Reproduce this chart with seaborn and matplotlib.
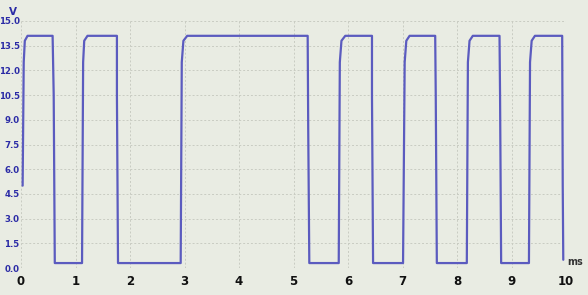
import matplotlib
matplotlib.use("Agg")
import matplotlib.pyplot as plt
import seaborn as sns
import pandas as pd

# Waveform trace (time in ms, voltage in V)
time_ms = [0.03, 0.05, 0.07, 0.12, 0.58, 0.60, 0.62, 1.12, 1.14, 1.16, 1.22, 1.76, 1.76, 1.78,
           2.93, 2.95, 2.98, 3.05, 5.26, 5.27, 5.29, 5.83, 5.85, 5.88, 5.95, 6.44, 6.44, 6.46,
           7.01, 7.04, 7.07, 7.13, 7.60, 7.61, 7.63, 8.18, 8.20, 8.23, 8.29, 8.78, 8.79, 8.81,
           9.32, 9.34, 9.37, 9.43, 9.93, 9.94, 9.95]
voltage_v = [5.0, 12.5, 13.8, 14.1, 14.1, 10.5, 0.3, 0.3, 12.5, 13.8, 14.1, 14.1, 10.5, 0.3,
             0.3, 12.5, 13.8, 14.1, 14.1, 8.5, 0.3, 0.3, 12.5, 13.8, 14.1, 14.1, 10.5, 0.3,
             0.3, 12.5, 13.8, 14.1, 14.1, 10.5, 0.3, 0.3, 12.5, 13.8, 14.1, 14.1, 10.5, 0.3,
             0.3, 12.5, 13.8, 14.1, 14.1, 5.0, 0.5]

x_ticks = [0, 1, 2, 3, 4, 5, 6, 7, 8, 9, 10]
y_ticks = [0.0, 1.5, 3.0, 4.5, 6.0, 7.5, 9.0, 10.5, 12.0, 13.5, 15.0]
y_labels = ["0.0", "1.5", "3.0", "4.5", "6.0", "7.5", "9.0", "10.5", "12.0", "13.5", "15.0"]

df = pd.DataFrame({"t": time_ms, "v": voltage_v})

sns.set_theme(style="white")
plt.rcParams['font.family'] = ['DejaVu Sans']

bg = "#e9ece3"
fig = plt.figure(figsize=(5.88, 2.95), dpi=100, facecolor=bg)
ax = fig.add_axes([21 / 588, 27 / 295, 545 / 588, 247 / 295])
ax.set_facecolor(bg)

sns.lineplot(data=df, x="t", y="v", sort=False, estimator=None, ax=ax,
             color="#5b5bbf", linewidth=1.6)

ax.set_xlim(0, 10)
ax.set_ylim(0, 15)
ax.set_xticks(x_ticks)
ax.set_xticklabels([str(v) for v in x_ticks], fontsize=8.5, fontweight="bold", color="#111111")
ax.set_yticks(y_ticks)
ax.set_yticklabels(y_labels, fontsize=6.8, fontweight="bold", color="#2b2ba6",
                   fontstretch="condensed")
ax.tick_params(axis="x", length=0, pad=5)
ax.tick_params(axis="y", length=0, pad=1)
ax.grid(True, color="#c9ccc2", linestyle=(0, (2, 2)), linewidth=0.7)
for s in ax.spines.values():
    s.set_visible(False)
ax.set_xlabel("")
ax.set_ylabel("")

fig.text(9 / 588, 1 - 12 / 295, "V", fontsize=7.5, fontweight="bold", color="#2b2ba6",
         ha="left", va="center")
fig.text(567 / 588, 1 - 262 / 295, "ms", fontsize=7, fontweight="bold", color="#333333",
         ha="left", va="center")

fig.savefig("out.png", dpi=100, facecolor=bg)
